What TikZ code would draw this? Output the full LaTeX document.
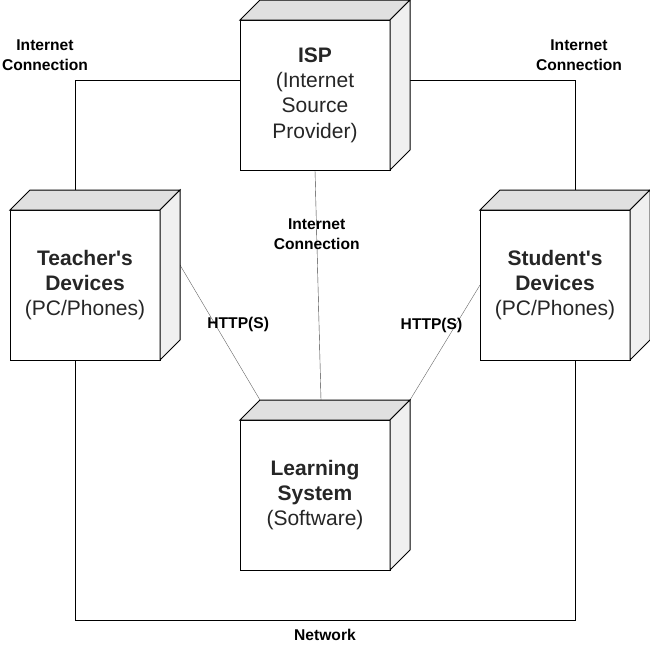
\documentclass[tikz,border=0pt]{standalone}
\usepackage{fontspec}
\setmainfont{Liberation Sans}
\usetikzlibrary{positioning,backgrounds}

\begin{document}
\begin{tikzpicture}[x=1pt,y=-1pt,node distance=2cm,on grid,line width=1pt,
    box/.style={draw,fill=white,minimum width=150pt,minimum height=150pt,inner sep=0pt,
      outer sep=0pt,align=center,text=black!85,font=\fontsize{21}{25.3}\selectfont,
      execute at begin node=\rule{0pt}{25pt}},
    lbl/.style={align=center,inner sep=0pt,font=\bfseries\fontsize{15.6}{20}\selectfont},
    link/.style={draw=black!60}]
    \useasboundingbox (0,0) rectangle (650,651);
    \node[box] (isp) at (315,95)                         {\textbf{ISP}\\(Internet\\Source\\Provider)};
    \node[box] (teacher) [below left=190pt and 230pt of isp]  {\textbf{Teacher\textquotesingle s}\\\textbf{Devices}\\(PC/Phones)};
    \node[box] (student) [below right=190pt and 240pt of isp] {\textbf{Student\textquotesingle s}\\\textbf{Devices}\\(PC/Phones)};
    \node[box] (ls)      [below=400pt of isp]            {\textbf{Learning}\\\textbf{System}\\(Software)};
    % 3d faces
    \foreach \n in {isp,teacher,student,ls}{
      \filldraw[fill=black!12] (\n.north west) -- ++(20pt,20pt) -- ++(150pt,0pt) -- (\n.north east) -- cycle;
      \filldraw[fill=black!6] (\n.north east) -- ++(20pt,20pt) -- ++(0pt,-150pt) -- (\n.south east) -- cycle;
    }
    \coordinate (nw) at (75,80);
    \coordinate (ne) at (575,80);
    \coordinate (sw) at (75,620);
    \coordinate (se) at (575,620);
    \begin{scope}[on background layer]
      \draw (isp.center |- nw) -- (nw) -- (sw) -- node[lbl,yshift=-15pt] {Network} (se) -- (ne) -- (isp.center |- ne);
      \path
      (isp.south) edge[draw=black!75] node[lbl,pos=.28] {Internet\\Connection} ([xshift=6pt,yshift=20pt]ls.north)
      ([xshift=20pt,yshift=20pt]teacher.east) edge[link] node[lbl,pos=.44,xshift=23pt] {HTTP(S)} ([xshift=20pt,yshift=20pt]ls.north west)
      (student.west) edge[link] node[lbl,pos=.35,xshift=-24pt] {HTTP(S)} ([xshift=20pt,yshift=20pt]ls.north east);
    \end{scope}
    \node[lbl] (inetl) at (45,55)  {Internet\\Connection};
    \node[lbl] (inetr) at (579,55) {Internet\\Connection};
\end{tikzpicture}
\end{document}
